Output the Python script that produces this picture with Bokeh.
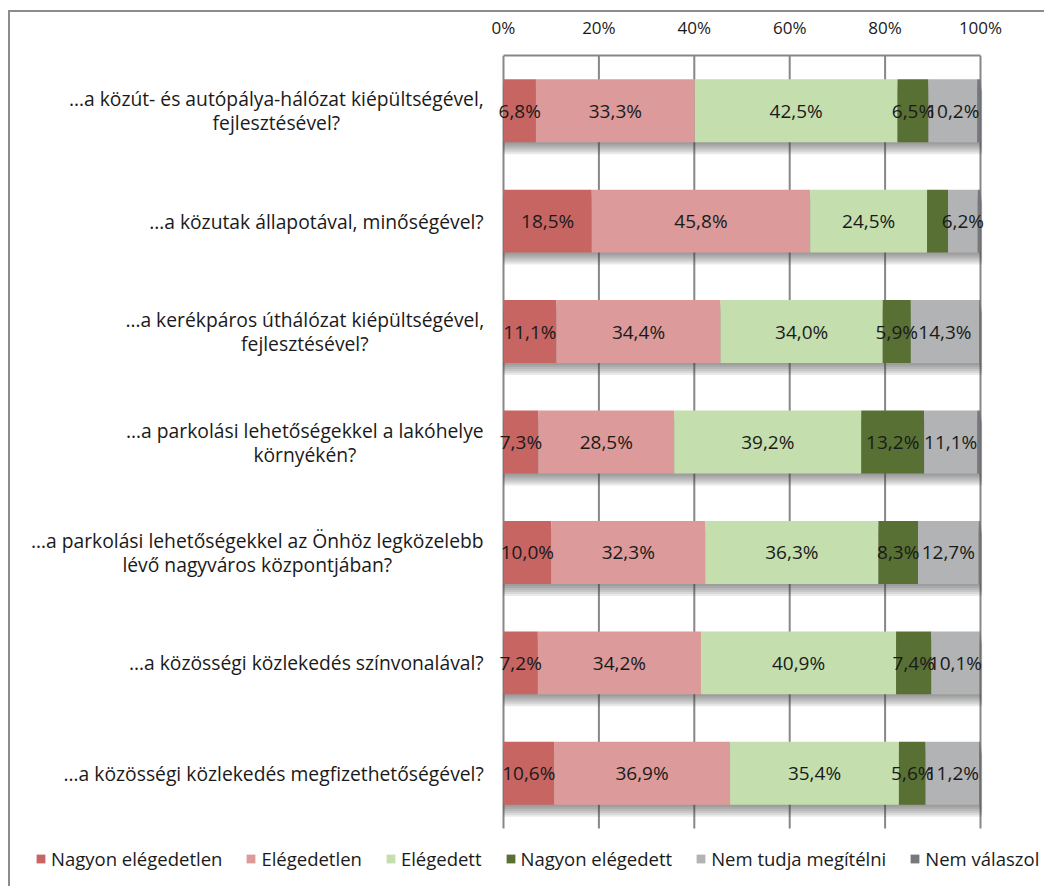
import glob
import os
import subprocess

from bokeh.plotting import figure
from bokeh.models import (Range1d, Legend, LegendItem, FixedTicker, ColumnDataSource)
from bokeh.core.properties import value
from bokeh.embed import file_html
from bokeh.resources import INLINE

# ---------------- data ----------------
categories = [
    "…a közút- és autópálya-hálózat kiépültségével,\nfejlesztésével?",
    "…a közutak állapotával, minőségével?",
    "…a kerékpáros úthálózat kiépültségével,\nfejlesztésével?",
    "…a parkolási lehetőségekkel a lakóhelye\nkörnyékén?",
    "…a parkolási lehetőségekkel az Önhöz legközelebb\nlévő nagyváros központjában?",
    "…a közösségi közlekedés színvonalával?",
    "…a közösségi közlekedés megfizethetőségével?",
]
series_names = ["Nagyon elégedetlen", "Elégedetlen", "Elégedett",
                "Nagyon elégedett", "Nem tudja megítélni", "Nem válaszol"]
nagyon_elegedetlen = [6.8, 18.5, 11.1, 7.3, 10.0, 7.2, 10.6]
elegedetlen = [33.3, 45.8, 34.4, 28.5, 32.3, 34.2, 36.9]
elegedett = [42.5, 24.5, 34.0, 39.2, 36.3, 40.9, 35.4]
nagyon_elegedett = [6.5, 4.4, 5.9, 13.2, 8.3, 7.4, 5.6]
nem_tudja = [10.2, 6.2, 14.3, 11.1, 12.7, 10.1, 11.2]
nem_valaszol = [0.7, 0.6, 0.3, 0.7, 0.4, 0.2, 0.3]
series_values = [nagyon_elegedetlen, elegedetlen, elegedett,
                 nagyon_elegedett, nem_tudja, nem_valaszol]
# labels not shown in the original: (row, series)
hidden_labels = {(1, 3)}
tick_values = [0, 20, 40, 60, 80, 100]
tick_labels = ["0%", "20%", "40%", "60%", "80%", "100%"]

# ---------------- style / layout ----------------
colors = ["#C76563", "#DC9B9A", "#C4DEAE", "#587034", "#B1B3B4", "#76787B"]
FONT = "Open Sans"
TXT = "#1a1a1a"
GRID = "#878787"
BORDER = "#8c8c8c"
CAT_SIZE = 19.3       # px
CAT_LINE = 24         # px between lines of a category label
CAT_GAP = 20          # px between labels and the bars
# page-pixel layout of the chart
CX0, CY0 = 10, 12            # canvas origin on the page (after margin + border)
AX_L, AX_R, AX_T, AX_B = 503, 980, 55, 828   # bar area
W, H = 1036, 876
n = len(categories)
bar_h = 0.57

PX = (AX_R - AX_L) / 100.0          # px per percent
BAND = (AX_B - AX_T) / n            # px per category
x0_c = AX_L - CX0                   # canvas x of 0%
top_c = AX_T - CY0                  # canvas y of frame top
x_range = Range1d(-x0_c / PX, (W - x0_c) / PX)
y_range = Range1d(-0.5 + (H - top_c) / BAND, -0.5)


# ---------------- text measuring (for centred multi-line labels) ----------------
def _font_path():
    pats = ["/usr/share/fonts/**/OpenSans-Regular.ttf", "/usr/share/fonts/**/OpenSans*.ttf",
            "/usr/local/share/fonts/**/OpenSans*.ttf"]
    for pat in pats:
        hits = sorted(glob.glob(pat, recursive=True))
        if hits:
            return hits[0]
    try:
        out = subprocess.run(["fc-match", "-f", "%{file}", "Open Sans"],
                             capture_output=True, text=True, timeout=10).stdout.strip()
        if out and os.path.exists(out):
            return out
    except Exception:
        pass
    return None


_measure = None
try:
    from PIL import ImageFont
    _fp = _font_path()
    if _fp:
        _f = ImageFont.truetype(_fp, 100)
        _measure = lambda s, size: _f.getlength(s) * size / 100.0
except Exception:
    _measure = None
if _measure is None:
    _measure = lambda s, size: len(s) * 0.53 * size

ys = list(range(n))

p = figure(width=W, height=H, x_range=x_range, y_range=y_range,
           output_backend="svg", toolbar_location=None, x_axis_location="above",
           y_axis_location=None,
           min_border_left=0, min_border_right=0, min_border_top=top_c, min_border_bottom=0)
p.margin = (CY0 - 2, 0, 0, CX0 - 2)
p.styles = {"border-top": f"2px solid {BORDER}", "border-left": f"2px solid {BORDER}"}
p.outline_line_color = None
p.background_fill_color = "white"
p.border_fill_color = "white"
p.xgrid.visible = False
p.ygrid.visible = False

xa = p.xaxis[0]
xa.ticker = FixedTicker(ticks=tick_values)
xa.bounds = (tick_values[0], tick_values[-1])
xa.major_label_overrides = {t: l for t, l in zip(tick_values, tick_labels)}
xa.axis_line_color = GRID
xa.axis_line_width = 2
xa.major_tick_in = 0
xa.major_tick_out = 0
xa.minor_tick_in = 0
xa.minor_tick_out = 0
xa.major_label_standoff = 17
xa.major_label_text_font = FONT
xa.major_label_text_font_size = "17px"
xa.major_label_text_color = TXT

# vertical gridlines over the bar area only
p.segment(x0=tick_values, x1=tick_values, y0=[-0.5] * len(tick_values),
          y1=[n - 0.5] * len(tick_values), line_color=GRID, line_width=2)

# shadows
px_y = 1.0 / BAND
px_x = 1.0 / PX
for k in (2, 4, 6, 8, 10, 12):
    p.quad(left=[0.0] * n, right=[sum(s[i] for s in series_values) + k * 0.15 * px_x for i in ys],
           top=[y - bar_h / 2 + k * px_y for y in ys],
           bottom=[y + bar_h / 2 + k * px_y for y in ys],
           fill_color="#444444", fill_alpha=0.11, line_color=None)

# stacked bars
legend_items = []
cum = [0.0] * n
lab_x, lab_y, lab_t = [], [], []
for si, (name, vals, col) in enumerate(zip(series_names, series_values, colors)):
    left = cum[:]
    right = [c + v for c, v in zip(cum, vals)]
    src = ColumnDataSource(dict(y=ys, left=left, right=right))
    r = p.hbar(y="y", left="left", right="right", height=bar_h, source=src,
               fill_color=col, line_color=None)
    legend_items.append(LegendItem(label=name, renderers=[r]))
    if si < 5:
        for i in ys:
            if (i, si) in hidden_labels:
                continue
            lab_x.append((left[i] + right[i]) / 2)
            lab_y.append(i)
            lab_t.append(f"{vals[i]:.1f}".replace(".", ",") + "%")
    cum = right

p.text(x=lab_x, y=lab_y, text=lab_t, text_align="center", text_baseline="middle",
       text_font=value(FONT), text_font_size="19px", text_color=TXT)

# category labels: block right-aligned next to the bars, lines centred in the block
cx, cy, ct, cxo, cyo = [], [], [], [], []
for i, c in enumerate(categories):
    lines = c.split("\n")
    wmax = max(_measure(ln, CAT_SIZE) for ln in lines)
    k = len(lines)
    for j, ln in enumerate(lines):
        cx.append(0.0)
        cy.append(i)
        ct.append(ln)
        cxo.append(-CAT_GAP - wmax / 2.0)
        cyo.append((j - (k - 1) / 2.0) * CAT_LINE)
csrc = ColumnDataSource(dict(x=cx, y=cy, text=ct, xo=cxo, yo=cyo))
p.text(x="x", y="y", text="text", x_offset="xo", y_offset="yo", source=csrc,
       text_align="center", text_baseline="middle",
       text_font=value(FONT), text_font_size=f"{CAT_SIZE}px", text_color=TXT)

legend = Legend(items=legend_items, orientation="horizontal", location=(25, 17),
                glyph_width=11, glyph_height=11, label_standoff=5, spacing=23,
                padding=0, margin=0, border_line_color=None, background_fill_alpha=0,
                label_text_font=FONT, label_text_font_size="18.5px", label_text_color=TXT)
p.add_layout(legend, "center")

open("out.html", "w").write(file_html(p, INLINE))
